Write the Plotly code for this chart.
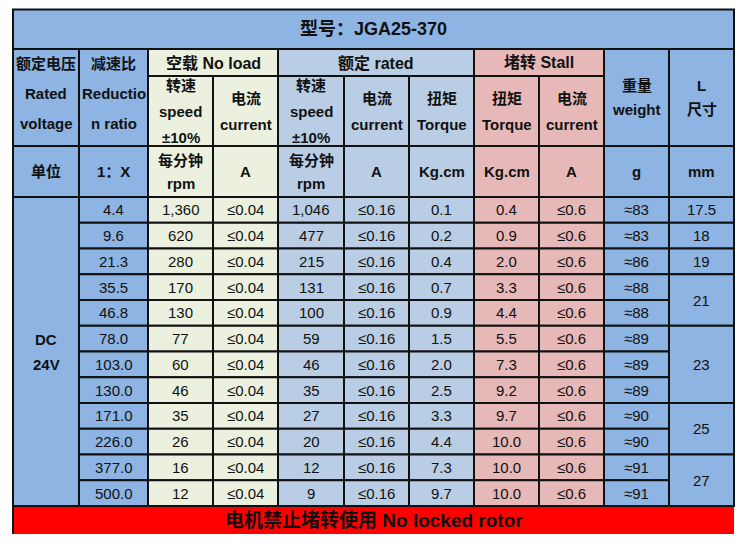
import plotly.graph_objects as go

# ---- table content -------------------------------------------------------
title = "型号：JGA25-370"
footer = "电机禁止堵转使用 No locked rotor"

ratio = [4.4, 9.6, 21.3, 35.5, 46.8, 78.0, 103.0, 130.0, 171.0, 226.0, 377.0, 500.0]
noload_speed = [1360, 620, 280, 170, 130, 77, 60, 46, 35, 26, 16, 12]
noload_current = ["≤0.04"] * 12
rated_speed = [1046, 477, 215, 131, 100, 59, 46, 35, 27, 20, 12, 9]
rated_current = ["≤0.16"] * 12
rated_torque = [0.1, 0.2, 0.4, 0.7, 0.9, 1.5, 2.0, 2.5, 3.3, 4.4, 7.3, 9.7]
stall_torque = [0.4, 0.9, 2.0, 3.3, 4.4, 5.5, 7.3, 9.2, 9.7, 10.0, 10.0, 10.0]
stall_current = ["≤0.6"] * 12
weight = [83, 83, 86, 88, 88, 89, 89, 89, 90, 90, 91, 91]
length = [("17.5", 1), ("18", 1), ("19", 1), ("21", 2), ("23", 3), ("25", 2), ("27", 2)]
voltage = ["DC", "24V"]

groups = [("空载 No load", 2, 4), ("额定 rated", 4, 7), ("堵转 Stall", 7, 9)]
side_heads = {0: ["额定电压", "Rated", "voltage"], 1: ["减速比", "Reductio", "n ratio"],
              9: ["重量", "weight"], 10: ["L", "尺寸"]}
sub_heads = [["转速", "speed", "±10%"], ["电流", "current"], ["转速", "speed", "±10%"],
             ["电流", "current"], ["扭矩", "Torque"], ["扭矩", "Torque"], ["电流", "current"]]
units = [["单位"], ["1：X"], ["每分钟", "rpm"], ["A"], ["每分钟", "rpm"], ["A"],
         ["Kg.cm"], ["Kg.cm"], ["A"], ["g"], ["mm"]]

# ---- geometry / style ----------------------------------------------------
col_x = [13, 79, 148, 213, 278, 344, 409, 474, 539, 604, 669, 734]
y_title, y_grp, y_sub, y_unit, y_data = 9.5, 49, 76, 146, 197
row_h = 25.75
y_end = y_data + row_h * len(ratio)
y_foot = y_end + 28
PAGE_PAD = 8  # default body margin of the html page

BLUE = "#8DB4E2"
GREEN = "#EBF1DE"
LBLUE = "#B9CDE5"
PINK = "#E6B8B7"
RED = "#FF0000"
col_fill = [BLUE, BLUE, GREEN, GREEN, LBLUE, LBLUE, LBLUE, PINK, PINK, BLUE, BLUE]
FONT = "Liberation Sans, Noto Sans CJK SC, sans-serif"

fig = go.Figure()
shapes, notes = [], []


def cell(x0, x1, y0, y1, fill, line=True):
    shapes.append(dict(type="rect", xref="x", yref="y", x0=x0, x1=x1, y0=y0, y1=y1,
                       fillcolor=fill, layer="below",
                       line=dict(color="#111", width=2 if line else 0)))


def text(x0, x1, y0, y1, lines, step=26, bold=False, size=15, dy=0):
    cx = (x0 + x1) / 2
    cy = (y0 + y1) / 2 + dy
    n = len(lines)
    for i, s in enumerate(lines):
        notes.append(dict(x=cx, y=cy + (i - (n - 1) / 2) * step, xref="x", yref="y",
                          text=f"<b>{s}</b>" if bold else s, showarrow=False,
                          xanchor="center", yanchor="middle",
                          font=dict(family=FONT, size=size, color="#111")))


# title row
cell(col_x[0], col_x[-1], y_title, y_grp, BLUE)
text(col_x[0], col_x[-1], y_title, y_grp, [title], bold=True, size=18)

# merged side headers
for c, lines in side_heads.items():
    cell(col_x[c], col_x[c + 1], y_grp, y_unit, col_fill[c])
    if c < 2:
        text(col_x[c], col_x[c + 1], y_grp, y_unit, lines, step=30, bold=True, dy=-4.5)
    else:
        text(col_x[c], col_x[c + 1], y_grp, y_unit, lines, step=24, bold=True)

# group headers
for label, a, b in groups:
    cell(col_x[a], col_x[b], y_grp, y_sub, col_fill[a])
    text(col_x[a], col_x[b], y_grp, y_sub, [label], bold=True, size=16)

# sub headers
for i, lines in enumerate(sub_heads):
    c = i + 2
    cell(col_x[c], col_x[c + 1], y_sub, y_unit, col_fill[c])
    text(col_x[c], col_x[c + 1], y_sub, y_unit, lines, step=26, bold=True)

# unit row
for c, lines in enumerate(units):
    cell(col_x[c], col_x[c + 1], y_unit, y_data, col_fill[c])
    text(col_x[c], col_x[c + 1], y_unit, y_data, lines, step=23, bold=True)

# data rows
cell(col_x[0], col_x[1], y_data, y_end, BLUE)
text(col_x[0], col_x[1], y_data, y_end, voltage, step=25, bold=True)

columns = [
    [f"{v:.1f}" for v in ratio],
    [f"{v:,}" for v in noload_speed],
    noload_current,
    [f"{v:,}" for v in rated_speed],
    rated_current,
    [f"{v:.1f}" for v in rated_torque],
    [f"{v:.1f}" for v in stall_torque],
    stall_current,
    [f"≈{v}" for v in weight],
]
for j, vals in enumerate(columns):
    c = j + 1
    for r, s in enumerate(vals):
        y0 = y_data + r * row_h
        cell(col_x[c], col_x[c + 1], y0, y0 + row_h, col_fill[c])
        text(col_x[c], col_x[c + 1], y0, y0 + row_h, [s])

r = 0
for s, span in length:
    y0 = y_data + r * row_h
    y1 = y0 + span * row_h
    cell(col_x[10], col_x[11], y0, y1, BLUE)
    text(col_x[10], col_x[11], y0, y1, [s])
    r += span

# footer
cell(col_x[0], col_x[-1], y_end, y_foot, RED, line=False)
text(col_x[0], col_x[-1], y_end, y_foot, [footer], bold=True, size=19)
shapes.append(dict(type="line", xref="x", yref="y", x0=col_x[0], x1=col_x[0],
                   y0=y_title, y1=y_foot, line=dict(color="#111", width=2)))
shapes.append(dict(type="line", xref="x", yref="y", x0=col_x[0], x1=col_x[-1],
                   y0=y_end, y1=y_end, line=dict(color="#111", width=2)))

# axis ranges shifted by the page margin so data units equal screen pixels
fig.update_layout(
    width=750, height=557, margin=dict(l=0, r=0, t=0, b=0),
    paper_bgcolor="white", plot_bgcolor="white", showlegend=False,
    xaxis=dict(range=[PAGE_PAD, 750 + PAGE_PAD], visible=False, fixedrange=True),
    yaxis=dict(range=[557 + PAGE_PAD, PAGE_PAD], visible=False, fixedrange=True),
    shapes=shapes, annotations=notes,
)
fig.write_html("out.html")
